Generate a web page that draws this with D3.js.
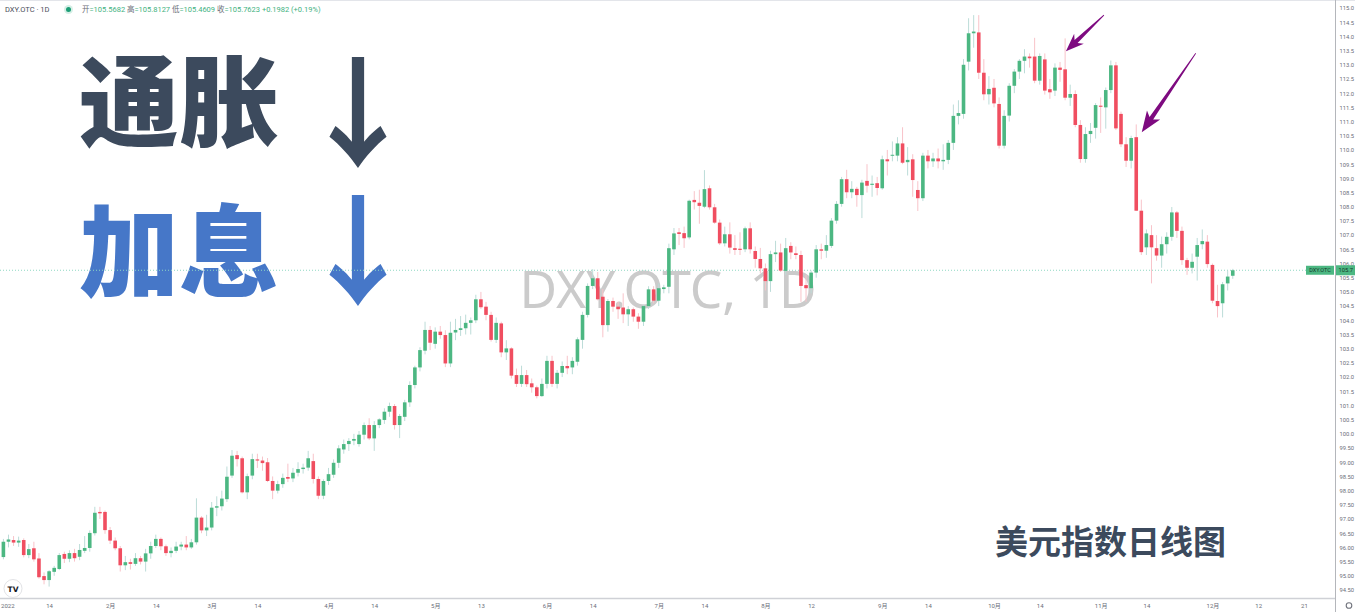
<!DOCTYPE html>
<html><head><meta charset="utf-8">
<script src="https://cdn.jsdelivr.net/npm/d3@7"></script>
<style>html,body{margin:0;padding:0;background:#fff;overflow:hidden}svg{display:block}</style>
</head><body><svg id="c" width="1355" height="612"></svg>
<script>
// ---------------- DATA ----------------
const dates = [
"01-03","01-04","01-05","01-06","01-07","01-10","01-11","01-12","01-13","01-14","01-17","01-18","01-19","01-20","01-21","01-24","01-25","01-26","01-27","01-28","01-31",
"02-01","02-02","02-03","02-04","02-07","02-08","02-09","02-10","02-11","02-14","02-15","02-16","02-17","02-18","02-21","02-22","02-23","02-24","02-25","02-28",
"03-01","03-02","03-03","03-04","03-07","03-08","03-09","03-10","03-11","03-14","03-15","03-16","03-17","03-18","03-21","03-22","03-23","03-24","03-25","03-28","03-29","03-30","03-31",
"04-01","04-04","04-05","04-06","04-07","04-08","04-11","04-12","04-13","04-14","04-15","04-18","04-19","04-20","04-21","04-22","04-25","04-26","04-27","04-28","04-29",
"05-02","05-03","05-04","05-05","05-06","05-09","05-10","05-11","05-12","05-13","05-16","05-17","05-18","05-19","05-20","05-23","05-24","05-25","05-26","05-27","05-30","05-31",
"06-01","06-02","06-03","06-06","06-07","06-08","06-09","06-10","06-13","06-14","06-15","06-16","06-17","06-20","06-21","06-22","06-23","06-24","06-27","06-28","06-29","06-30",
"07-01","07-04","07-05","07-06","07-07","07-08","07-11","07-12","07-13","07-14","07-15","07-18","07-19","07-20","07-21","07-22","07-25","07-26","07-27","07-28","07-29",
"08-01","08-02","08-03","08-04","08-05","08-08","08-09","08-10","08-11","08-12","08-15","08-16","08-17","08-18","08-19","08-22","08-23","08-24","08-25","08-26","08-29","08-30","08-31",
"09-01","09-02","09-05","09-06","09-07","09-08","09-09","09-12","09-13","09-14","09-15","09-16","09-19","09-20","09-21","09-22","09-23","09-26","09-27","09-28","09-29","09-30",
"10-03","10-04","10-05","10-06","10-07","10-10","10-11","10-12","10-13","10-14","10-17","10-18","10-19","10-20","10-21","10-24","10-25","10-26","10-27","10-28","10-31",
"11-01","11-02","11-03","11-04","11-07","11-08","11-09","11-10","11-11","11-14","11-15","11-16","11-17","11-18","11-21","11-22","11-23","11-24","11-25","11-28","11-29","11-30",
"12-01","12-02","12-05","12-06","12-07"];
const futureDates = ["12-08","12-09","12-10","12-11","12-12","12-13","12-14","12-15","12-16","12-17","12-18","12-19","12-20","12-21","12-22","12-23","12-24","12-25","12-26","12-27"];

const open = [
95.66,96.20,96.26,96.17,96.26,95.73,95.97,95.61,94.99,94.85,
95.14,95.24,95.77,95.60,95.80,95.67,95.88,95.98,96.50,97.25,
97.25,96.61,96.24,95.97,95.37,95.48,95.42,95.62,95.50,95.79,
96.05,96.30,96.04,95.80,95.88,96.03,96.10,96.00,96.18,97.05,
96.60,96.70,97.40,97.45,97.70,98.53,99.25,99.14,97.94,98.53,
99.10,99.06,99.00,98.34,98.00,98.23,98.48,98.43,98.63,98.76,
98.81,99.04,98.41,97.82,98.34,98.56,98.98,99.45,99.64,99.76,
99.64,99.97,100.31,99.84,100.31,100.49,100.78,100.98,100.31,100.60,
101.11,101.72,102.34,102.93,103.66,103.17,103.60,103.48,102.48,103.57,
103.66,103.72,103.91,104.00,104.74,104.48,104.19,103.31,103.89,102.87,
103.01,102.07,101.76,102.07,101.78,101.64,101.33,101.76,102.57,101.76,
102.15,102.39,102.34,102.54,103.31,104.19,105.21,105.48,104.83,103.83,
104.68,104.48,104.45,104.21,104.39,104.13,103.95,104.50,105.09,104.69,
105.10,105.18,106.50,107.10,107.07,106.92,108.24,108.14,108.00,108.65,
107.98,107.44,106.71,107.03,106.54,106.52,106.50,107.24,106.44,106.16,
105.83,105.38,106.33,106.39,105.74,106.62,106.36,106.30,105.24,105.13,
105.68,106.50,106.45,106.62,107.51,108.10,108.97,108.51,108.63,108.41,
108.91,108.77,108.83,108.65,109.67,109.80,109.80,110.23,109.57,109.67,
108.59,108.30,109.80,109.60,109.70,109.60,109.65,110.25,111.20,111.27,
113.11,114.11,114.14,112.72,111.96,112.19,111.62,110.15,111.21,112.26,
112.76,113.14,113.29,113.29,112.44,113.19,112.14,112.09,112.90,112.84,
111.84,111.97,110.88,109.68,110.56,110.78,111.56,111.50,112.11,112.98,
111.27,110.20,109.62,110.45,107.86,106.57,107.00,106.54,106.28,106.68,
106.94,107.80,107.15,106.12,105.85,106.24,106.68,106.77,105.95,104.68,
104.60,105.30,105.5682];
const high = [
96.30,96.45,96.40,96.38,96.32,96.12,96.20,95.80,95.12,95.20,
95.35,95.80,95.85,95.90,95.95,96.12,96.40,96.60,97.43,97.43,
97.30,96.72,96.35,96.05,95.70,95.60,95.80,95.70,95.95,96.20,
96.45,96.35,96.10,96.00,96.20,96.20,96.40,96.30,97.73,97.10,
97.15,97.60,97.80,98.00,98.85,99.43,99.40,99.20,98.60,99.30,
99.30,99.20,99.15,98.50,98.35,98.60,98.95,98.80,99.00,98.95,
99.40,99.30,98.50,98.40,98.80,99.10,99.60,99.80,99.85,100.00,
100.10,100.40,100.55,100.45,100.55,100.90,101.10,101.05,100.70,101.20,
101.85,102.40,103.05,103.95,103.80,103.75,103.80,103.65,103.95,104.05,
104.15,104.20,104.10,104.90,105.00,104.65,104.30,104.10,103.95,103.30,
103.05,102.30,102.40,102.25,101.95,101.70,101.95,102.75,102.75,102.25,
102.55,102.75,102.70,103.40,104.30,105.30,105.80,105.70,105.10,104.75,
104.80,104.65,104.95,104.50,104.45,104.25,104.55,105.20,105.20,105.30,
105.25,106.70,107.25,107.25,107.30,108.25,108.55,108.60,109.29,108.75,
108.10,107.55,107.30,107.45,107.00,107.10,107.30,107.45,106.60,106.55,
106.00,106.45,106.80,106.70,106.90,106.75,106.60,106.45,105.60,105.75,
106.65,106.70,107.00,107.60,108.20,109.05,109.30,108.90,108.70,108.95,
109.50,109.10,109.05,109.80,110.00,110.30,110.45,110.80,110.10,109.85,
108.90,109.90,110.00,109.90,110.05,110.20,110.35,111.60,111.75,113.20,
114.64,114.75,114.75,113.20,112.60,112.50,111.85,111.40,112.35,112.85,
113.20,113.55,113.40,113.95,113.40,113.40,112.50,113.05,113.10,113.93,
112.30,112.10,111.05,110.80,110.95,111.65,111.85,112.20,113.15,113.10,
111.35,110.45,110.50,110.90,108.25,107.20,107.35,107.00,106.95,107.10,
107.99,107.85,107.30,106.20,106.35,106.90,107.20,107.00,106.00,105.25,
105.35,105.75,105.8127];
const low = [
95.58,96.00,96.05,96.02,95.65,95.62,95.50,94.90,94.70,94.62,
95.00,95.20,95.45,95.48,95.50,95.55,95.80,95.85,96.42,97.00,
96.48,96.12,95.90,95.15,95.20,95.22,95.35,95.40,95.15,95.60,
95.98,95.90,95.70,95.65,95.80,95.90,95.90,95.95,96.10,96.50,
96.40,96.60,97.10,97.30,97.60,98.45,98.85,97.90,97.70,98.40,
98.80,98.70,98.30,97.70,97.90,98.10,98.30,98.30,98.50,98.60,
98.70,98.25,97.70,97.70,98.20,98.45,98.80,99.30,99.40,99.60,
99.55,99.80,99.78,99.40,100.20,100.35,100.60,100.15,99.85,100.45,
100.95,101.60,102.20,102.80,102.95,103.00,103.35,102.35,102.35,103.30,
103.45,103.50,103.50,103.90,104.40,104.00,103.25,103.20,102.70,102.60,
101.95,101.65,101.65,101.65,101.45,101.25,101.30,101.60,101.65,101.60,
102.00,102.10,102.10,102.40,103.00,104.10,105.10,104.70,103.40,103.60,
104.30,104.05,103.90,103.80,103.95,103.70,103.80,104.40,104.60,104.50,
104.95,104.95,106.30,106.65,106.55,106.85,107.90,107.40,107.95,107.90,
107.40,106.65,106.60,106.35,106.30,106.30,106.40,106.35,105.85,105.65,
105.05,105.00,106.05,105.70,105.60,106.15,106.15,104.65,104.65,104.95,
105.50,106.15,106.20,106.55,107.40,108.00,108.30,108.30,108.00,107.60,
108.50,108.35,108.40,108.60,109.10,109.60,109.60,109.50,109.10,108.35,
107.85,108.20,109.35,109.40,109.35,109.30,109.50,110.00,110.90,111.10,
112.80,113.60,112.50,111.75,111.60,111.50,110.05,110.05,111.00,112.00,
112.50,112.70,112.90,112.35,112.30,111.95,111.80,111.90,112.40,111.75,
111.55,110.80,109.55,109.55,110.25,110.40,110.60,110.75,112.00,110.70,
110.10,109.40,109.35,107.85,106.30,106.30,105.30,106.10,105.85,106.35,
106.80,106.90,105.95,105.60,105.65,105.40,106.50,105.85,104.60,104.10,
104.10,105.05,105.4609];
const close = [
96.20,96.28,96.17,96.24,95.73,95.94,95.58,94.95,94.85,95.16,
95.28,95.73,95.60,95.80,95.62,95.91,95.98,96.51,97.22,97.20,
96.61,96.24,95.97,95.37,95.48,95.42,95.62,95.50,95.79,96.05,
96.30,96.04,95.80,95.88,96.03,96.10,96.00,96.18,97.05,96.60,
96.70,97.40,97.45,97.72,98.49,99.23,99.11,97.94,98.51,99.11,
99.06,98.97,98.34,98.00,98.23,98.45,98.42,98.63,98.76,98.81,
99.14,98.41,97.82,98.34,98.58,98.98,99.49,99.64,99.75,99.82,
99.97,100.31,99.84,100.31,100.51,100.78,100.98,100.31,100.63,101.11,
101.72,102.34,102.95,103.66,103.21,103.60,103.48,102.48,103.56,103.66,
103.72,103.91,104.00,104.74,104.46,104.19,103.31,103.91,102.87,103.01,
102.05,101.76,102.07,101.75,101.64,101.33,101.76,102.57,101.76,102.15,
102.39,102.31,102.57,103.33,104.19,105.21,105.48,104.74,103.83,104.68,
104.48,104.39,104.21,104.39,104.13,103.95,104.50,105.09,104.69,105.13,
105.16,106.54,107.06,107.04,106.89,108.21,108.16,108.03,108.62,107.98,
107.44,106.71,107.03,106.56,106.48,106.48,107.24,106.50,106.16,105.83,
105.38,106.33,106.39,105.75,106.54,106.39,106.30,105.21,105.13,105.68,
106.50,106.45,106.65,107.51,108.10,108.97,108.51,108.63,108.41,108.85,
108.74,108.81,108.66,109.67,109.60,109.83,110.23,109.55,109.65,108.94,
108.30,109.80,109.60,109.70,109.60,109.65,110.25,111.20,111.30,113.00,
114.11,114.17,112.72,111.96,112.15,111.64,110.15,111.20,112.26,112.76,
113.14,113.29,113.23,112.44,113.31,112.09,112.03,112.90,112.82,111.84,
111.97,110.88,109.68,110.56,110.67,111.58,111.52,112.11,112.98,110.76,
110.20,109.62,110.42,107.86,106.40,107.06,106.57,106.28,106.68,106.94,
107.80,107.15,106.12,105.85,106.06,106.65,106.79,105.98,104.69,104.50,
105.27,105.54,105.7623];

const xTickDates  = ["01-03","01-14","02-01","02-14","03-01","03-14","04-01","04-14","05-02","05-13","06-01","06-14","07-01","07-14","08-01","08-12","09-01","09-14","10-03","10-14","11-01","11-14","12-01","12-12","12-21"];
const xTickLabels = ["2022","14","2月","14","3月","14","4月","14","5月","13","6月","14","7月","14","8月","12","9月","14","10月","14","11月","14","12月","12","21"];
const yTickValues = [115,114.5,114,113.5,113,112.5,112,111.5,111,110.5,110,109.5,109,108.5,108,107.5,107,106.5,106,105.5,105,104.5,104,103.5,103,102.5,102,101.5,101,100.5,100,99.5,99,98.5,98,97.5,97,96.5,96,95.5,95,94.5];
const yTickLabels = ["115.0","114.5","114.0","113.5","113.0","112.5","112.0","111.5","111.0","110.5","110.0","109.5","109.0","108.5","108.0","107.5","107.0","106.5","106.0","105.5","105.0","104.5","104.0","103.5","103.0","102.5","102.0","101.5","101.0","100.5","100.0","99.50","99.00","98.50","98.00","97.50","97.00","96.50","96.00","95.50","95.00","94.50"];

const symbol = "DXY.OTC";
const headerItems = [["开","105.5682"],["高","105.8127"],["低","105.4609"],["收","105.7623"]];
const headerChange = "+0.1982 (+0.19%)";

// ---------------- LAYOUT ----------------
const W = 1355, H = 612;
const plotRight = 1335, plotBottom = 598;
const up = "#4cb782", down = "#f04e60", wickUp = "#bcdcd8", wickDown = "#f8c3c9";
const svg = d3.select("#c");
const defs = svg.append("defs");
defs.append("clipPath").attr("id","plotclip").append("rect").attr("x",0).attr("y",0).attr("width",plotRight).attr("height",plotBottom);

const allDates = dates.concat(futureDates);
const x = d3.scalePoint().domain(allDates).range([3.4, 3.4 + 5.08*(allDates.length-1)]);
const y = d3.scaleLinear().domain([94.5,115]).range([590,8]);

svg.append("rect").attr("width",W).attr("height",H).attr("fill","#fff");
svg.append("line").attr("x1",0).attr("x2",W).attr("y1",0.5).attr("y2",0.5).attr("stroke","#e3e5ea");

// watermark
svg.append("text").attr("x",668).attr("y",308).attr("text-anchor","middle")
  .attr("font-family","'Noto Sans', 'Open Sans', sans-serif").attr("font-size",51.5)
  .attr("fill","#cbcbcb").text("DXY.OTC, 1D");

// big annotations
const cjk = "'Noto Sans CJK SC', 'Noto Sans CJK JP', sans-serif";
svg.append("text").attr("x",79).attr("y",139).attr("font-family",cjk).attr("font-weight",900)
  .attr("font-size",100).attr("fill","#3c4a5d").text("通胀");
svg.append("text").attr("x",79).attr("y",289).attr("font-family",cjk).attr("font-weight",900)
  .attr("font-size",100).attr("fill","#4677c8").text("加息");
const arrows = svg.append("text").attr("text-anchor","middle").attr("font-family",cjk).attr("font-weight",700).attr("font-size",120);
arrows.append("tspan").attr("x",358).attr("y",158).attr("fill","#3c4a5d").text("↓");
arrows.append("tspan").attr("x",358).attr("y",296).attr("fill","#4677c8").text("↓");
svg.append("text").attr("x",995).attr("y",554).attr("font-family",cjk).attr("font-weight",700)
  .attr("font-size",33).attr("fill","#3c4a5d").text("美元指数日线图");

// current price line
const last = close[close.length-1];
svg.append("line").attr("x1",0).attr("x2",plotRight).attr("y1",y(last)).attr("y2",y(last))
  .attr("stroke","#8fd8c2").attr("stroke-dasharray","1,2").attr("stroke-width",1);

// candles
const data = dates.map((d,i)=>({d,o:open[i],h:high[i],l:low[i],c:close[i]}));
const g = svg.append("g").attr("clip-path","url(#plotclip)");
g.selectAll("line.wick").data(data).join("line").attr("class","wick")
  .attr("x1",d=>x(d.d)).attr("x2",d=>x(d.d)).attr("y1",d=>y(d.h)).attr("y2",d=>y(d.l))
  .attr("stroke",d=>d.c>=d.o?wickUp:wickDown).attr("stroke-width",1);
g.selectAll("rect.body").data(data).join("rect").attr("class","body")
  .attr("x",d=>x(d.d)-1.8).attr("width",3.6)
  .attr("y",d=>y(Math.max(d.o,d.c))).attr("height",d=>Math.max(1,Math.abs(y(d.o)-y(d.c))))
  .attr("fill",d=>d.c>=d.o?up:down);

// purple arrows (anchored to candles)
function arrowPath(tx,ty,dx,dy,headL,headW){
  const sx=tx+dx, sy=ty+dy; const len=Math.hypot(dx,dy);
  const ux=-dx/len, uy=-dy/len; const nx=-uy, ny=ux;
  const bx=tx-ux*headL, by=ty-uy*headL;
  const p=[[sx+nx*0.4,sy+ny*0.4],[bx+ux*2+nx*2.2,by+uy*2+ny*2.2],[bx-ux*2+nx*headW,by-uy*2+ny*headW],[tx,ty],
           [bx-ux*2-nx*headW,by-uy*2-ny*headW],[bx+ux*2-nx*2.2,by+uy*2-ny*2.2],[sx-nx*0.4,sy-ny*0.4]];
  return "M"+p.map(q=>q.join(",")).join("L")+"Z";
}
const tip1=[x(dates[209])+0.8, y(113.48)];
const tip2=[x(dates[223])+5.5, y(110.62)];
svg.append("path").attr("d",arrowPath(tip1[0],tip1[1],38,-36,16,7)).attr("fill","#7e0a80");
svg.append("path").attr("d",arrowPath(tip2[0],tip2[1],54,-79,19,8)).attr("fill","#7e0a80");

// axes
const axisFont = "Roboto, 'Noto Sans CJK SC', sans-serif";
svg.append("line").attr("x1",0).attr("x2",plotRight).attr("y1",plotBottom+0.5).attr("y2",plotBottom+0.5).attr("stroke","#cfd1d6").attr("stroke-width",1.5);
svg.append("line").attr("x1",plotRight+0.5).attr("x2",plotRight+0.5).attr("y1",0).attr("y2",H).attr("stroke","#b4b6bb");

const xAxis = d3.axisBottom(x).tickValues(xTickDates).tickFormat((d,i)=>xTickLabels[i]).tickSize(0).tickPadding(0);
const gx = svg.append("g").attr("transform",`translate(0,${plotBottom})`).call(xAxis);
gx.select(".domain").remove();
gx.selectAll("text").attr("font-family",axisFont).attr("font-size",6).attr("fill","#6a6d78").attr("dy","0").attr("y",10);
gx.selectAll("text").filter((d,i)=>i===0).attr("text-anchor","start").attr("x",0.6-x(xTickDates[0]));

const yAxis = d3.axisRight(y).tickValues(yTickValues).tickFormat((d,i)=>yTickLabels[i]).tickSize(0).tickPadding(0);
const gy = svg.append("g").attr("transform",`translate(${plotRight+4.5},0)`).call(yAxis);
gy.select(".domain").remove();
gy.selectAll("text").attr("font-family",axisFont).attr("font-size",5.8).attr("fill","#6a6d78");

// price labels
const ly = y(last);
svg.append("rect").attr("x",1306).attr("y",ly-4.5).attr("width",28).attr("height",9).attr("fill",up);
svg.append("text").attr("x",1320).attr("y",ly+2).attr("text-anchor","middle").attr("font-family",axisFont)
  .attr("font-size",5.5).attr("fill","#16382a").text(symbol);
svg.append("rect").attr("x",plotRight+1).attr("y",ly-5).attr("width",W-plotRight-1).attr("height",10).attr("fill",up);
svg.append("text").attr("x",plotRight+3.5).attr("y",ly+2.2).attr("font-family",axisFont)
  .attr("font-size",5.8).attr("fill","#16382a").text(d3.format(".1f")(Math.floor(last*10)/10));

// header
const hdr = svg.append("text").attr("x",5).attr("y",12).attr("font-family",axisFont).attr("font-size",7.5);
hdr.append("tspan").attr("fill","#4a4e5a").text(symbol+" · 1D");
svg.append("circle").attr("cx",68.5).attr("cy",9.5).attr("r",4.5).attr("fill","#d6efe6");
svg.append("circle").attr("cx",68.5).attr("cy",9.5).attr("r",2.5).attr("fill","#1c9e76");
const hdr2 = svg.append("text").attr("x",82).attr("y",12).attr("font-family",axisFont).attr("font-size",7.5);
headerItems.forEach(([k,v])=>{
  hdr2.append("tspan").attr("fill","#6a6d78").text(k);
  hdr2.append("tspan").attr("fill","#3fb27f").text("="+v+" ");
});
hdr2.append("tspan").attr("fill","#3fb27f").text(headerChange);

// TV logo & gear
svg.append("circle").attr("cx",13).attr("cy",588.5).attr("r",9).attr("fill","#fff").attr("stroke","#e2e3e6");
svg.append("text").attr("x",13).attr("y",591.5).attr("text-anchor","middle").attr("font-family","'DejaVu Sans', sans-serif")
  .attr("font-weight",900).attr("font-size",7.5).attr("fill","#131722").text("TV");
svg.append("circle").attr("cx",1349).attr("cy",605.5).attr("r",2.8).attr("fill","none").attr("stroke","#70737c").attr("stroke-width",1.1);
</script></body></html>
